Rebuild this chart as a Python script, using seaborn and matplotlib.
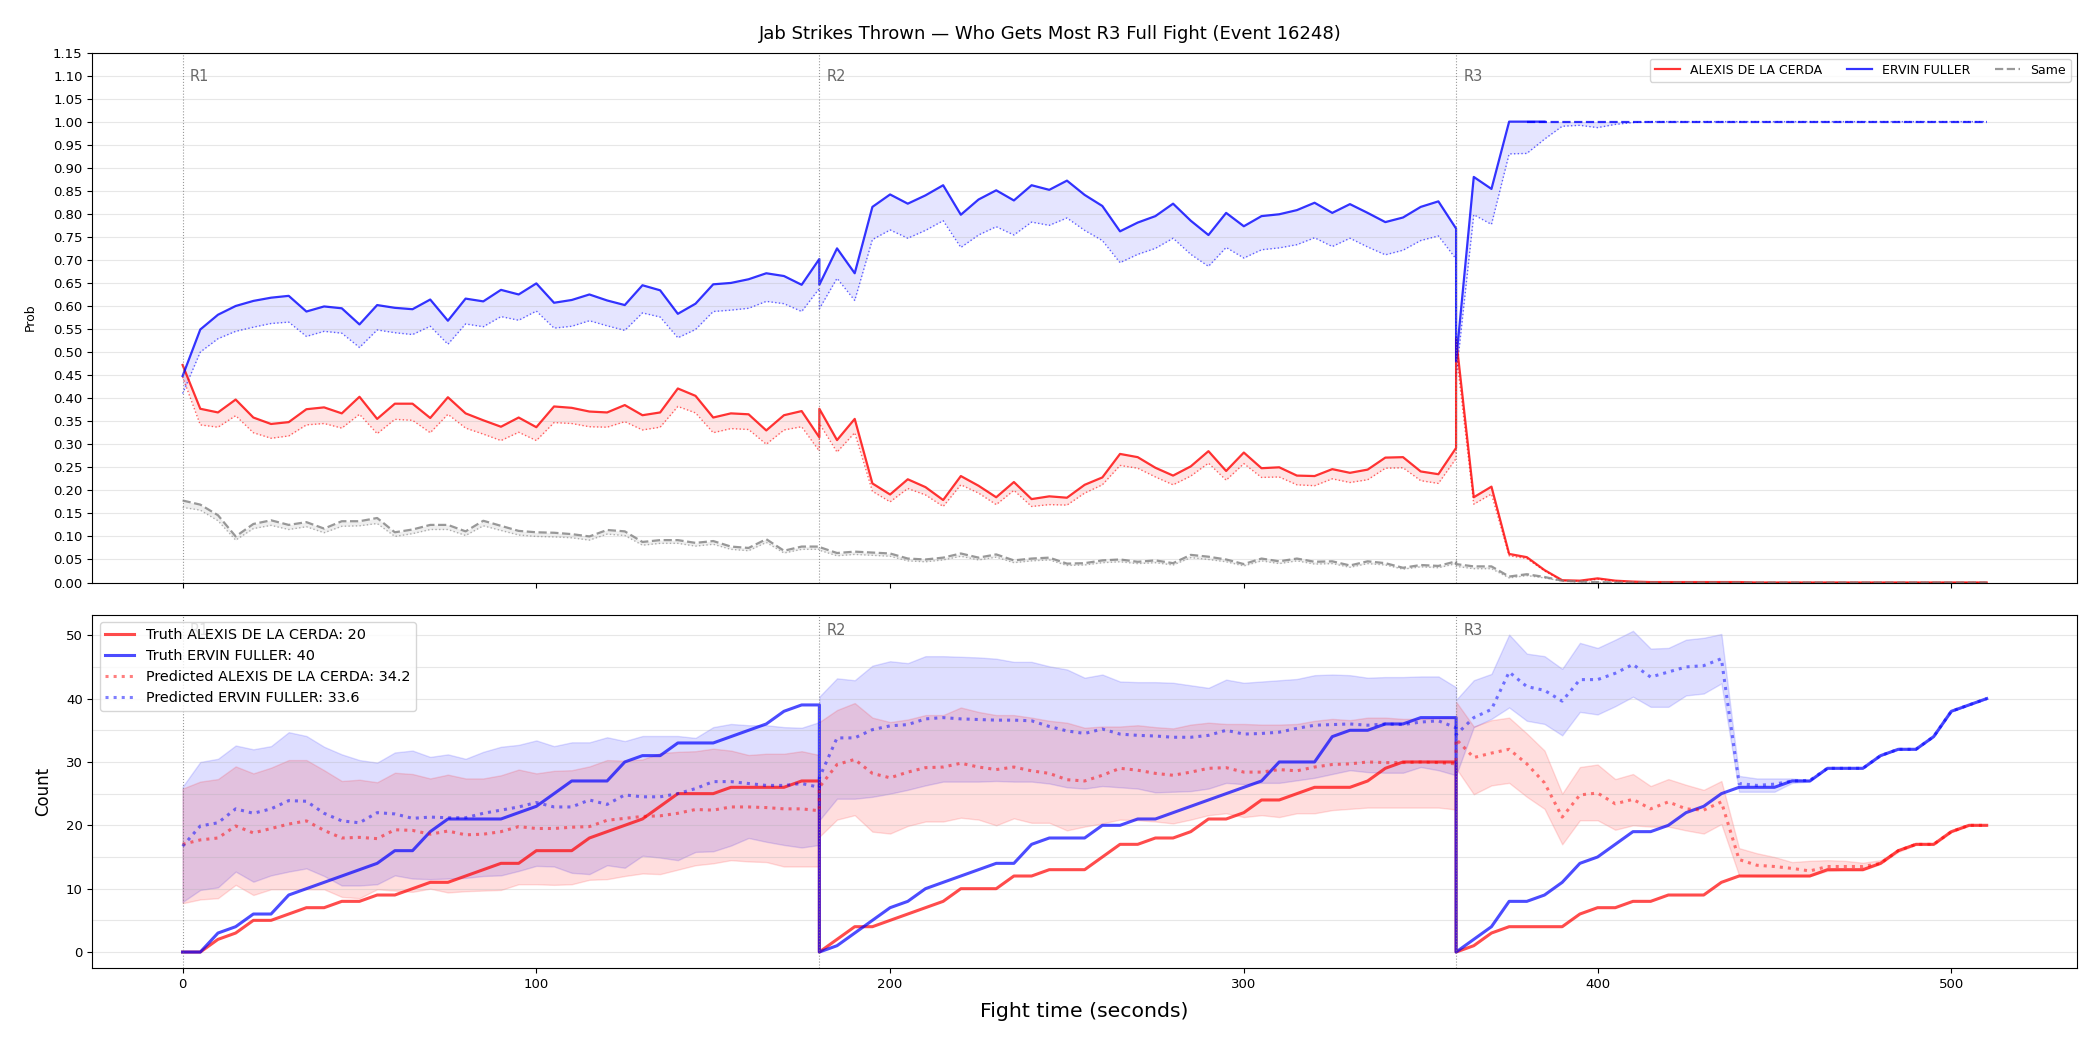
import numpy as np
import matplotlib
matplotlib.use("Agg")
import matplotlib.pyplot as plt
from matplotlib.ticker import MultipleLocator, FormatStrFormatter
import seaborn as sns

# one sample every 5 s, each round restarts at its own boundary
r1_time = np.arange(0, 181, 5)
r2_time = np.arange(180, 361, 5)
r3_time = np.arange(360, 511, 5)
round_starts = [0, 180, 360]
round_names = ["R1", "R2", "R3"]

red_name = "ALEXIS DE LA CERDA"
blue_name = "ERVIN FULLER"
title = "Jab Strikes Thrown — Who Gets Most R3 Full Fight (Event 16248)"
pred_total_red = 34.2
pred_total_blue = 33.6

# ---- top panel: win probabilities (solid) and the dotted lower curve ----
blue_p_r1 = [0.448, 0.549, 0.581, 0.600, 0.611, 0.618, 0.622, 0.588, 0.599, 0.595, 0.560, 0.602, 0.596,
             0.593, 0.614, 0.568, 0.616, 0.610, 0.635, 0.625, 0.649, 0.607, 0.613, 0.625, 0.612, 0.602,
             0.645, 0.634, 0.583, 0.605, 0.647, 0.650, 0.658, 0.671, 0.665, 0.646, 0.702]
blue_p_r2 = [0.646, 0.725, 0.671, 0.815, 0.842, 0.822, 0.840, 0.862, 0.798, 0.831, 0.851, 0.829, 0.862,
             0.852, 0.872, 0.841, 0.817, 0.762, 0.781, 0.795, 0.822, 0.785, 0.754, 0.802, 0.773, 0.795,
             0.799, 0.808, 0.824, 0.802, 0.821, 0.802, 0.782, 0.792, 0.815, 0.827, 0.768]
blue_p_r3 = [0.48, 0.88, 0.854, 1.0, 1.0, 1.0, 1.0, 1.0, 1.0, 1.0, 1.0, 1.0, 1.0, 1.0, 1.0, 1.0,
             1.0, 1.0, 1.0, 1.0, 1.0, 1.0, 1.0, 1.0, 1.0, 1.0, 1.0, 1.0, 1.0, 1.0, 1.0]
blue_lo_r1 = [0.410, 0.500, 0.529, 0.545, 0.554, 0.562, 0.565, 0.534, 0.545, 0.541, 0.510, 0.548, 0.542,
              0.538, 0.556, 0.517, 0.561, 0.555, 0.577, 0.569, 0.589, 0.552, 0.556, 0.568, 0.557, 0.547,
              0.585, 0.576, 0.531, 0.549, 0.588, 0.591, 0.595, 0.610, 0.605, 0.588, 0.638]
blue_lo_r2 = [0.594, 0.660, 0.612, 0.744, 0.765, 0.747, 0.764, 0.785, 0.727, 0.754, 0.772, 0.754, 0.782,
              0.775, 0.791, 0.764, 0.742, 0.694, 0.712, 0.725, 0.747, 0.712, 0.686, 0.727, 0.704, 0.722,
              0.726, 0.733, 0.748, 0.729, 0.747, 0.728, 0.711, 0.721, 0.742, 0.752, 0.702]
blue_lo_r3 = [0.446, 0.798, 0.777, 0.930, 0.931, 0.962, 0.990, 0.992, 0.987, 0.994, 0.998, 1.0, 1.0,
              1.0, 1.0, 1.0, 1.0, 1.0, 1.0, 1.0, 1.0, 1.0, 1.0, 1.0, 1.0, 1.0, 1.0, 1.0, 1.0, 1.0, 1.0]

red_p_r1 = [0.472, 0.377, 0.369, 0.397, 0.358, 0.344, 0.348, 0.376, 0.380, 0.367, 0.403, 0.355, 0.388,
            0.388, 0.357, 0.402, 0.367, 0.352, 0.338, 0.358, 0.337, 0.382, 0.379, 0.371, 0.369, 0.385,
            0.363, 0.369, 0.421, 0.405, 0.358, 0.367, 0.365, 0.330, 0.363, 0.372, 0.315]
red_p_r2 = [0.377, 0.309, 0.355, 0.215, 0.191, 0.224, 0.207, 0.179, 0.231, 0.210, 0.185, 0.218, 0.181,
            0.187, 0.184, 0.212, 0.228, 0.279, 0.272, 0.249, 0.232, 0.252, 0.285, 0.242, 0.282, 0.248,
            0.250, 0.232, 0.231, 0.246, 0.238, 0.245, 0.271, 0.272, 0.241, 0.235, 0.292]
red_p_r3 = [0.53, 0.185, 0.208, 0.062, 0.055, 0.027, 0.005, 0.004, 0.009, 0.004, 0.002, 0.001, 0.001,
            0.001, 0.001, 0.001, 0.001, 0.0, 0.0, 0.0, 0.0, 0.0, 0.0, 0.0, 0.0, 0.0, 0.0, 0.0, 0.0, 0.0, 0.0]
red_lo_r1 = [0.446, 0.342, 0.337, 0.362, 0.325, 0.313, 0.318, 0.342, 0.345, 0.335, 0.365, 0.323, 0.354,
             0.352, 0.325, 0.365, 0.335, 0.322, 0.308, 0.326, 0.308, 0.347, 0.345, 0.338, 0.337, 0.349,
             0.331, 0.337, 0.382, 0.368, 0.325, 0.334, 0.332, 0.300, 0.331, 0.338, 0.285]
red_lo_r2 = [0.345, 0.283, 0.325, 0.198, 0.175, 0.204, 0.190, 0.165, 0.212, 0.194, 0.169, 0.200, 0.165,
             0.169, 0.168, 0.194, 0.212, 0.254, 0.248, 0.229, 0.212, 0.231, 0.259, 0.222, 0.258, 0.228,
             0.229, 0.212, 0.210, 0.225, 0.217, 0.223, 0.248, 0.249, 0.221, 0.215, 0.269]
red_lo_r3 = [0.50, 0.170, 0.192, 0.058, 0.052, 0.025, 0.004, 0.003, 0.007, 0.003, 0.001, 0.0, 0.0,
             0.0, 0.0, 0.0, 0.0, 0.0, 0.0, 0.0, 0.0, 0.0, 0.0, 0.0, 0.0, 0.0, 0.0, 0.0, 0.0, 0.0, 0.0]

same_p_r1 = [0.178, 0.169, 0.146, 0.100, 0.127, 0.135, 0.125, 0.131, 0.117, 0.133, 0.133, 0.140, 0.109,
             0.115, 0.125, 0.125, 0.111, 0.134, 0.123, 0.112, 0.109, 0.108, 0.105, 0.100, 0.114, 0.111,
             0.088, 0.092, 0.092, 0.086, 0.090, 0.078, 0.075, 0.094, 0.069, 0.078, 0.078]
same_p_r2 = [0.077, 0.064, 0.067, 0.065, 0.063, 0.052, 0.050, 0.054, 0.063, 0.054, 0.061, 0.048, 0.052,
             0.054, 0.041, 0.042, 0.048, 0.050, 0.045, 0.048, 0.042, 0.060, 0.056, 0.050, 0.040, 0.052,
             0.046, 0.052, 0.045, 0.046, 0.037, 0.046, 0.042, 0.032, 0.038, 0.036, 0.046]
same_p_r3 = [0.040, 0.035, 0.035, 0.013, 0.018, 0.012, 0.004, 0.002, 0.001, 0.0, 0.0, 0.0, 0.0, 0.0,
             0.0, 0.0, 0.0, 0.0, 0.0, 0.0, 0.0, 0.0, 0.0, 0.0, 0.0, 0.0, 0.0, 0.0, 0.0, 0.0, 0.0]
same_lo_r1 = [0.163, 0.157, 0.134, 0.092, 0.117, 0.124, 0.115, 0.121, 0.108, 0.122, 0.123, 0.128, 0.100,
              0.106, 0.115, 0.115, 0.102, 0.123, 0.113, 0.103, 0.100, 0.099, 0.097, 0.092, 0.105, 0.102,
              0.081, 0.085, 0.085, 0.079, 0.083, 0.072, 0.069, 0.087, 0.064, 0.072, 0.072]
same_lo_r2 = [0.070, 0.058, 0.061, 0.059, 0.057, 0.047, 0.045, 0.049, 0.057, 0.049, 0.055, 0.043, 0.047,
              0.049, 0.037, 0.038, 0.043, 0.045, 0.041, 0.043, 0.038, 0.054, 0.050, 0.045, 0.036, 0.047,
              0.041, 0.047, 0.040, 0.041, 0.033, 0.041, 0.038, 0.029, 0.034, 0.032, 0.041]
same_lo_r3 = [0.035, 0.030, 0.030, 0.010, 0.015, 0.010, 0.003, 0.001, 0.0, 0.0, 0.0, 0.0, 0.0, 0.0,
              0.0, 0.0, 0.0, 0.0, 0.0, 0.0, 0.0, 0.0, 0.0, 0.0, 0.0, 0.0, 0.0, 0.0, 0.0, 0.0, 0.0]

# blue line is drawn solid until it locks, dashed once it sits at 1.0
blue_solid_until = 385
blue_locked_from = 380

# ---- bottom panel: cumulative jab counts per round ----
red_truth_r1 = [0, 0, 2, 3, 5, 5, 6, 7, 7, 8, 8, 9, 9, 10, 11, 11, 12, 13, 14, 14, 16, 16, 16, 18, 19,
                20, 21, 23, 25, 25, 25, 26, 26, 26, 26, 27, 27]
red_truth_r2 = [0, 2, 4, 4, 5, 6, 7, 8, 10, 10, 10, 12, 12, 13, 13, 13, 15, 17, 17, 18, 18, 19, 21, 21,
                22, 24, 24, 25, 26, 26, 26, 27, 29, 30, 30, 30, 30]
red_truth_r3 = [0, 1, 3, 4, 4, 4, 4, 6, 7, 7, 8, 8, 9, 9, 9, 11, 12, 12, 12, 12, 12, 13, 13, 13, 14, 16,
                17, 17, 19, 20, 20]
blue_truth_r1 = [0, 0, 3, 4, 6, 6, 9, 10, 11, 12, 13, 14, 16, 16, 19, 21, 21, 21, 21, 22, 23, 25, 27, 27,
                 27, 30, 31, 31, 33, 33, 33, 34, 35, 36, 38, 39, 39]
blue_truth_r2 = [0, 1, 3, 5, 7, 8, 10, 11, 12, 13, 14, 14, 17, 18, 18, 18, 20, 20, 21, 21, 22, 23, 24, 25,
                 26, 27, 30, 30, 30, 34, 35, 35, 36, 36, 37, 37, 37]
blue_truth_r3 = [0, 2, 4, 8, 8, 9, 11, 14, 15, 17, 19, 19, 20, 22, 23, 25, 26, 26, 26, 27, 27, 29, 29, 29,
                 31, 32, 32, 34, 38, 39, 40]

red_pred_r1 = [17.0, 17.7, 18.0, 19.9, 18.8, 19.5, 20.2, 20.7, 19.2, 18.0, 18.1, 17.9, 19.3, 19.2, 18.6,
               19.1, 18.5, 18.6, 19.0, 19.8, 19.5, 19.5, 19.7, 19.8, 20.8, 21.1, 21.4, 21.5, 21.9, 22.5,
               22.4, 22.9, 22.9, 22.8, 22.6, 22.6, 22.3]
red_pred_r2 = [26.0, 29.6, 30.4, 28.2, 27.5, 28.4, 29.1, 29.2, 29.8, 29.2, 28.8, 29.2, 28.6, 28.2, 27.2,
               27.0, 27.9, 29.0, 28.7, 28.2, 27.9, 28.4, 29.0, 29.1, 28.4, 28.4, 28.8, 28.6, 29.2, 29.6,
               29.7, 30.0, 29.9, 29.9, 30.0, 29.9, 29.7]
red_pred_r3 = [33.6, 30.7, 31.4, 32.0, 29.7, 26.7, 21.3, 24.8, 25.1, 23.4, 24.1, 22.6, 23.7, 22.6, 22.4,
               23.7, 14.6, 13.7, 13.5, 13.2, 12.8, 13.5, 13.5, 13.5, 14.0, 16.0, 17.0, 17.0, 19.0, 20.0,
               20.0]
blue_pred_r1 = [16.7, 19.9, 20.4, 22.6, 21.9, 22.6, 23.9, 23.8, 21.9, 20.7, 20.4, 22.0, 21.8, 21.1, 21.3,
                21.2, 21.2, 21.9, 22.4, 22.9, 23.6, 22.9, 22.9, 24.0, 23.3, 24.8, 24.5, 24.5, 25.0, 25.8,
                26.9, 26.9, 26.6, 26.3, 26.3, 26.6, 26.0]
blue_pred_r2 = [27.5, 33.8, 33.8, 35.1, 35.7, 35.9, 36.8, 37.0, 36.8, 36.7, 36.6, 36.6, 36.5, 35.6, 34.9,
                34.5, 35.2, 34.4, 34.2, 34.1, 33.9, 33.9, 34.2, 35.0, 34.4, 34.5, 34.7, 35.3, 35.8, 35.9,
                36.0, 35.8, 36.0, 35.9, 36.3, 36.5, 35.4]
blue_pred_r3 = [34.3, 37.0, 38.3, 44.2, 41.9, 41.3, 39.6, 43.0, 43.0, 44.0, 45.4, 43.4, 44.2, 45.0, 45.2,
                46.3, 26.6, 26.3, 26.5, 27.0, 27.1, 29.0, 29.0, 29.0, 31.0, 32.0, 32.0, 34.0, 38.0, 39.0,
                40.0]

red_hi_r1 = [25.8, 26.9, 27.3, 29.3, 28.2, 29.1, 30.3, 30.3, 28.7, 27.0, 27.2, 26.8, 28.3, 28.1, 27.4,
             28.0, 27.4, 27.4, 27.9, 28.8, 28.2, 28.6, 28.7, 29.3, 30.3, 30.2, 30.4, 31.4, 31.6, 31.7,
             32.1, 31.8, 31.1, 31.3, 31.3, 31.7, 31.1]
red_hi_r2 = [36.3, 38.2, 39.3, 37.0, 36.3, 36.7, 37.4, 37.4, 38.6, 37.9, 37.4, 37.4, 37.0, 36.5, 36.2,
             35.4, 35.6, 35.6, 35.8, 35.5, 35.3, 35.9, 36.2, 36.0, 36.0, 35.9, 35.9, 36.0, 36.5, 36.8,
             36.6, 37.0, 37.0, 36.8, 36.8, 37.0, 37.1]
red_hi_r3 = [39.5, 35.6, 36.6, 37.0, 34.5, 31.8, 25.0, 29.2, 29.6, 27.3, 28.1, 26.2, 27.3, 26.4, 25.6,
             27.0, 16.4, 15.6, 15.0, 14.2, 14.4, 14.5, 14.4, 14.1, 14.5, 16.2, 17.2, 17.1, 19.1, 20.1,
             20.0]
red_lo_cnt_r1 = [7.7, 8.3, 8.5, 10.6, 9.0, 9.9, 9.9, 9.9, 9.9, 8.7, 8.5, 9.9, 9.7, 9.5, 10.0, 9.4, 9.6,
                 9.7, 9.8, 10.7, 10.7, 10.6, 10.7, 11.4, 11.5, 12.0, 12.4, 12.3, 13.0, 13.7, 14.0, 14.5,
                 14.3, 14.2, 13.5, 13.5, 13.5]
red_lo_cnt_r2 = [18.2, 20.9, 21.6, 19.0, 18.7, 19.9, 20.6, 20.6, 21.2, 20.9, 20.0, 21.1, 20.4, 20.4,
                 19.2, 19.8, 20.3, 20.9, 20.8, 20.6, 20.3, 20.9, 21.6, 21.9, 21.3, 21.6, 21.3, 21.9,
                 21.9, 22.4, 22.6, 22.8, 22.8, 22.8, 22.8, 22.8, 22.5]
red_lo_cnt_r3 = [29.0, 24.9, 26.3, 26.7, 24.5, 22.6, 17.0, 20.8, 20.8, 19.3, 20.0, 19.8, 19.8, 19.2,
                 18.7, 20.2, 12.1, 12.0, 12.0, 12.0, 12.0, 12.8, 12.9, 12.9, 13.9, 15.8, 16.9, 16.9,
                 18.9, 19.9, 20.0]
blue_hi_r1 = [26.1, 30.0, 30.5, 32.6, 32.0, 32.5, 34.7, 34.1, 32.4, 31.2, 30.3, 29.9, 31.5, 31.8, 30.8,
              31.2, 30.5, 31.6, 32.4, 32.7, 33.4, 32.5, 33.1, 33.1, 33.9, 33.3, 34.1, 34.1, 34.1, 33.8,
              35.5, 36.0, 35.8, 35.8, 35.5, 35.4, 36.3]
blue_hi_r2 = [40.3, 43.2, 42.9, 45.2, 45.9, 45.6, 46.7, 46.7, 46.6, 46.5, 46.3, 45.8, 45.8, 45.1, 44.6,
              43.3, 43.8, 42.7, 42.6, 42.6, 42.5, 42.1, 41.7, 43.0, 42.5, 42.7, 42.9, 43.1, 43.7, 43.8,
              43.7, 43.3, 43.4, 43.4, 43.5, 43.5, 41.8]
blue_hi_r3 = [39.8, 42.9, 43.9, 50.1, 47.1, 46.7, 44.7, 48.8, 48.0, 49.3, 50.7, 47.9, 48.0, 49.3, 49.6,
              50.2, 27.8, 27.4, 27.4, 27.4, 27.1, 29.0, 29.0, 29.0, 31.0, 32.0, 32.0, 34.0, 38.0, 39.0,
              40.0]
blue_lo_cnt_r1 = [7.9, 9.8, 10.2, 12.7, 11.1, 12.1, 12.7, 13.2, 12.0, 10.5, 10.5, 10.7, 12.1, 11.6, 11.5,
                  11.6, 11.7, 12.0, 12.1, 12.8, 13.6, 13.5, 12.5, 12.3, 13.7, 13.3, 15.2, 14.9, 14.5,
                  15.8, 15.9, 16.8, 18.0, 17.4, 16.9, 16.5, 16.9]
blue_lo_cnt_r2 = [20.8, 24.2, 24.2, 24.5, 25.0, 25.6, 26.3, 26.9, 26.9, 26.9, 27.0, 26.9, 26.9, 26.6,
                  26.0, 25.8, 26.2, 26.0, 25.8, 25.2, 25.3, 25.4, 25.8, 26.7, 26.5, 26.7, 26.7, 27.1,
                  27.5, 28.1, 28.7, 28.4, 28.3, 28.3, 29.2, 28.7, 27.9]
blue_lo_cnt_r3 = [27.9, 35.5, 36.8, 38.6, 36.5, 36.0, 34.2, 37.9, 37.5, 38.8, 40.3, 38.7, 38.7, 40.5,
                  40.8, 42.4, 25.3, 25.3, 25.3, 26.7, 26.9, 29.0, 29.0, 29.0, 31.0, 32.0, 32.0, 34.0,
                  38.0, 39.0, 40.0]


def rounds(a, b, c):
    return np.concatenate([np.asarray(a, float), np.asarray(b, float), np.asarray(c, float)])


t = rounds(r1_time, r2_time, r3_time)
blue_p, blue_lo = rounds(blue_p_r1, blue_p_r2, blue_p_r3), rounds(blue_lo_r1, blue_lo_r2, blue_lo_r3)
red_p, red_lo = rounds(red_p_r1, red_p_r2, red_p_r3), rounds(red_lo_r1, red_lo_r2, red_lo_r3)
same_p, same_lo = rounds(same_p_r1, same_p_r2, same_p_r3), rounds(same_lo_r1, same_lo_r2, same_lo_r3)

red_truth = rounds(red_truth_r1, red_truth_r2, red_truth_r3)
blue_truth = rounds(blue_truth_r1, blue_truth_r2, blue_truth_r3)
red_pred = rounds(red_pred_r1, red_pred_r2, red_pred_r3)
blue_pred = rounds(blue_pred_r1, blue_pred_r2, blue_pred_r3)
red_hi = rounds(red_hi_r1, red_hi_r2, red_hi_r3)
red_lo_cnt = rounds(red_lo_cnt_r1, red_lo_cnt_r2, red_lo_cnt_r3)
blue_hi = rounds(blue_hi_r1, blue_hi_r2, blue_hi_r3)
blue_lo_cnt = rounds(blue_lo_cnt_r1, blue_lo_cnt_r2, blue_lo_cnt_r3)


def line(ax, x, y, color, **kw):
    # raw points in the given order: rounds restart at the same x, so no sorting / aggregation
    sns.lineplot(x=x, y=y, ax=ax, color=color, estimator=None, sort=False, **kw)


fig, (ax1, ax2) = plt.subplots(2, 1, figsize=(21, 10.5), dpi=100, sharex=True,
                               gridspec_kw={"height_ratios": [3, 2]})
fig.subplots_adjust(left=0.044, right=0.989, top=0.95, bottom=0.078, hspace=0.073)

# top: probabilities
ax1.fill_between(t, red_p, red_lo, color="red", alpha=0.1, lw=0)
ax1.fill_between(t, blue_p, blue_lo, color="blue", alpha=0.1, lw=0)
ax1.fill_between(t, same_p, same_lo, color="gray", alpha=0.12, lw=0)
line(ax1, t, red_lo, "red", lw=1, ls=":", alpha=0.6)
line(ax1, t, blue_lo, "blue", lw=1, ls=":", alpha=0.6)
line(ax1, t, same_lo, "gray", lw=1, ls=":", alpha=0.6)
line(ax1, t, red_p, "red", lw=1.6, alpha=0.8, label=red_name)
solid = t <= blue_solid_until
locked = t >= blue_locked_from
line(ax1, t[solid], blue_p[solid], "blue", lw=1.6, alpha=0.8, label=blue_name)
line(ax1, t[locked], blue_p[locked], "blue", lw=1.6, alpha=0.8, ls="--")
line(ax1, t, same_p, "gray", lw=1.6, alpha=0.8, ls="--", label="Same")

ax1.set_ylim(0, 1.15)
ax1.set_yticks(np.round(np.arange(0, 1.151, 0.05), 2))
ax1.yaxis.set_major_formatter(FormatStrFormatter("%.2f"))
ax1.grid(axis="y", alpha=0.3)
ax1.set_ylabel("Prob", fontsize=9, labelpad=12)
ax1.legend(loc="upper right", ncol=3, fontsize=9)

# bottom: counts
ax2.fill_between(t, blue_hi, blue_lo_cnt, color="blue", alpha=0.13)
ax2.fill_between(t, red_hi, red_lo_cnt, color="red", alpha=0.13)
line(ax2, t, red_truth, "red", lw=2.2, alpha=0.7, label=f"Truth {red_name}: {int(red_truth[-1])}")
line(ax2, t, blue_truth, "blue", lw=2.2, alpha=0.7, label=f"Truth {blue_name}: {int(blue_truth[-1])}")
line(ax2, t, red_pred, "red", lw=2.2, alpha=0.5, ls=":", label=f"Predicted {red_name}: {pred_total_red}")
line(ax2, t, blue_pred, "blue", lw=2.2, alpha=0.5, ls=":", label=f"Predicted {blue_name}: {pred_total_blue}")

ax2.yaxis.set_minor_locator(MultipleLocator(5))
ax2.tick_params(axis="y", which="minor", length=0)
ax2.grid(axis="y", which="both", alpha=0.3)
ax2.set_ylabel("Count", fontsize=12, labelpad=10)
ax2.set_xlabel("Fight time (seconds)", fontsize=14.7, labelpad=8)
ax2.legend(loc="upper left", fontsize=10.4)

for ax in (ax1, ax2):
    for x0, name in zip(round_starts, round_names):
        ax.axvline(x0, color="gray", ls=":", lw=0.8, alpha=0.8)
        ax.text(x0 + 2, 0.955, name, transform=ax.get_xaxis_transform(), color="dimgray",
                fontsize=10.5, va="center", ha="left")
    ax.tick_params(labelsize=9.5)

fig.suptitle(title, fontsize=13, y=0.968, va="center")

fig.savefig("out.png", dpi=100)
